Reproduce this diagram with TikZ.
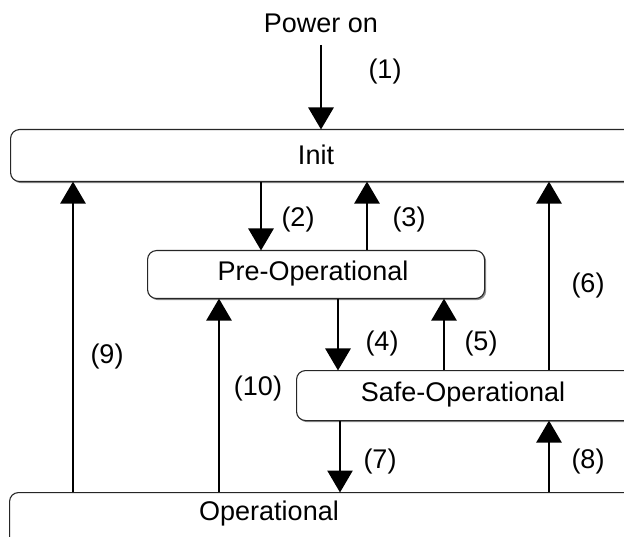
\documentclass[tikz,border=0pt]{standalone}
\usepackage{fontspec}
\setmainfont{Liberation Sans}
\usetikzlibrary{arrows.meta,shadows}
\begin{document}
\begin{tikzpicture}[x=1pt,y=-1pt,
  box/.style={draw=black!85, line width=1.1pt, rounded corners=9pt, fill=white, inner sep=0pt, anchor=north west,
    general shadow={fill=black!45, shadow xshift=1.6pt, shadow yshift=-1.6pt}},
  txt/.style={font=\fontsize{27}{31}\selectfont, inner sep=0pt},
  arr/.style={line width=2.8pt, -{Triangle[width=25pt,length=22pt]}, shorten >=-0.5pt}
]
\useasboundingbox (0,0) rectangle (624,537);
\clip (0,0) rectangle (624,537);
% boxes
\node[box, minimum width=640pt, minimum height=52pt] (init) at (10,129) {};
\node[box, minimum width=337pt, minimum height=48pt] (pre) at (147,250) {};
\node[box, minimum width=340pt, minimum height=50pt] (safe) at (296,370) {};
\node[box, minimum width=640pt, minimum height=80pt] (op) at (9,492) {};
% texts
\node[txt] (tpower) at (321,23) {Power on};
\node[txt] (tinit) at (316,155) {Init};
\node[txt] (tpre) at (313,274) {Pre-Operational};
\node[txt] (tsafe) at (463,395) {Safe-Operational};
\node[txt] (top) at (269,514) {Operational};
% x positions
\coordinate (x1) at (321,45);
\coordinate (x2) at (261,0);
\coordinate (x3) at (367,0);
\coordinate (x4) at (338,0);
\coordinate (x5) at (444,0);
\coordinate (x6) at (549,0);
\coordinate (x7) at (340,0);
\coordinate (x8) at (549,0);
\coordinate (x9) at (73,0);
\coordinate (x10) at (219,0);
% arrows
\draw[arr] (x1) -- (x1 |- init.north);
\draw[arr] (x2 |- init.south) -- (x2 |- pre.north);
\draw[arr] (x3 |- pre.north) -- (x3 |- init.south);
\draw[arr] (x4 |- pre.south) -- (x4 |- safe.north);
\draw[arr] (x5 |- safe.north) -- (x5 |- pre.south);
\draw[arr] (x6 |- safe.north) -- (x6 |- init.south);
\draw[arr] (x7 |- safe.south) -- (x7 |- op.north);
\draw[arr] (x8 |- op.north) -- (x8 |- safe.south);
\draw[arr] (x9 |- op.north) -- (x9 |- init.south);
\draw[arr] (x10 |- op.north) -- (x10 |- pre.south);
% labels
\node[txt] (l1) at (385,72) {(1)};
\node[txt] (l2) at (298,220) {(2)};
\node[txt] (l3) at (409,220) {(3)};
\node[txt] (l4) at (382,344) {(4)};
\node[txt] (l5) at (481,344) {(5)};
\node[txt] (l6) at (588,286) {(6)};
\node[txt] (l7) at (380,462) {(7)};
\node[txt] (l8) at (588,462) {(8)};
\node[txt] (l9) at (107,357) {(9)};
\node[txt] (l10) at (258,389) {(10)};
\end{tikzpicture}
\end{document}
